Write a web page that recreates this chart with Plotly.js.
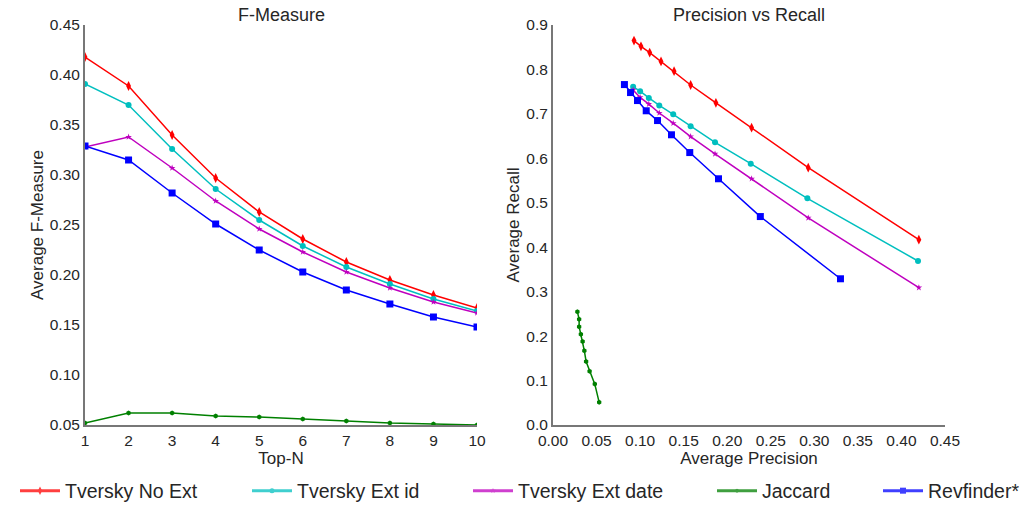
<!DOCTYPE html>
<html><head><meta charset="utf-8">
<script src="https://cdn.plot.ly/plotly-3.0.1.min.js"></script>
<style>body{margin:0}#chart{width:1025px;height:505px}</style>
</head><body><div id="chart"></div>
<script>
const topN = [1,2,3,4,5,6,7,8,9,10];
const seriesNames = ["Tversky No Ext","Tversky Ext id","Tversky Ext date","Jaccard","Revfinder*"];
// F-Measure (left)
const fNoExt   = [0.418,0.389,0.340,0.297,0.263,0.236,0.213,0.195,0.180,0.167];
const fExtId   = [0.391,0.370,0.326,0.286,0.255,0.229,0.208,0.191,0.176,0.164];
const fExtDate = [0.328,0.338,0.307,0.274,0.246,0.223,0.203,0.187,0.173,0.162];
const fJaccard = [0.052,0.062,0.062,0.059,0.058,0.056,0.054,0.052,0.051,0.050];
const fRev     = [0.329,0.315,0.282,0.251,0.225,0.203,0.185,0.171,0.158,0.148];
// Precision vs Recall (right), ordered top-10 .. top-1
const pNoExt   = [0.093,0.101,0.111,0.124,0.139,0.158,0.187,0.228,0.293,0.420];
const rNoExt   = [0.865,0.852,0.838,0.818,0.796,0.765,0.725,0.669,0.579,0.417];
const pExtId   = [0.092,0.100,0.110,0.122,0.138,0.158,0.186,0.227,0.292,0.419];
const rExtId   = [0.761,0.751,0.736,0.719,0.699,0.672,0.636,0.588,0.510,0.369];
const pExtDate = [0.092,0.100,0.110,0.122,0.138,0.158,0.186,0.228,0.293,0.420];
const rExtDate = [0.754,0.737,0.722,0.702,0.679,0.649,0.610,0.554,0.466,0.309];
const pJaccard = [0.028,0.030,0.030,0.032,0.034,0.036,0.038,0.042,0.048,0.053];
const rJaccard = [0.255,0.238,0.221,0.204,0.188,0.167,0.143,0.121,0.092,0.051];
const pRev     = [0.082,0.089,0.097,0.107,0.120,0.136,0.157,0.190,0.238,0.330];
const rRev     = [0.766,0.748,0.730,0.707,0.685,0.653,0.613,0.554,0.469,0.329];
const yTicksF = [0.05,0.10,0.15,0.20,0.25,0.30,0.35,0.40,0.45];
const yTicksR = [0.0,0.1,0.2,0.3,0.4,0.5,0.6,0.7,0.8,0.9];
const xTicksP = [0.00,0.05,0.10,0.15,0.20,0.25,0.30,0.35,0.40,0.45];

const colors = ["#ff0000","#00bfbf","#bf00bf","#008000","#0000ff"];
const symbols = ["diamond-tall","circle","star","hexagon","square"];
const sizes = [7,6,5,5,7];
const legSizes = [6,5,4,4,6];
const fData = [fNoExt,fExtId,fExtDate,fJaccard,fRev];
const pData = [pNoExt,pExtId,pExtDate,pJaccard,pRev];
const rData = [rNoExt,rExtId,rExtDate,rJaccard,rRev];
const legendNames = ["legend","legend2","legend3","legend4","legend5"];
const legendTextPx = [66,298,519,763,929];

const traces = [];
for (let i=0;i<5;i++){
  const common = {mode:"lines+markers", line:{color:colors[i], width:1.5},
    marker:{symbol:symbols[i], size:sizes[i], color:colors[i], line:{width:0}},
    name:seriesNames[i], legendgroup:"g"+i, showlegend:false};
  traces.push(Object.assign({}, common, {x:topN, y:fData[i], xaxis:"x", yaxis:"y"}));
  traces.push(Object.assign({}, common, {x:pData[i], y:rData[i], xaxis:"x2", yaxis:"y2"}));
  // legend-only entry (no visible data)
  traces.push({x:[null], y:[null], xaxis:"x", yaxis:"y", mode:"lines+markers", name:seriesNames[i],
    legendgroup:"g"+i, showlegend:true, legend:legendNames[i], opacity:0.75,
    line:{color:colors[i], width:3},
    marker:{symbol:symbols[i], size:legSizes[i], color:colors[i], line:{width:0}}});
}

const tickFont = {family:"Liberation Sans, Arial, sans-serif", size:15.5, color:"#262626"};
const titleFont = {family:"Liberation Sans, Arial, sans-serif", size:17, color:"#262626"};
const headFont = {family:"Liberation Sans, Arial, sans-serif", size:18, color:"#262626"};
const legFont = {family:"Liberation Sans, Arial, sans-serif", size:19.5, color:"#262626"};
const axCommon = {showgrid:false, zeroline:false, showline:true, linecolor:"#777", linewidth:2,
  ticks:"", tickfont:tickFont, mirror:false};
const L = 85, R = 80, T = 25, B = 80, W = 1025;
const pw = W - L - R;
const layout = {
  width:1025, height:505, paper_bgcolor:"#fff", plot_bgcolor:"#fff",
  margin:{l:L, r:R, t:T, b:B, autoexpand:false}, font:tickFont,
  xaxis:Object.assign({}, axCommon, {domain:[0,(477-L)/pw], range:[1,10], tickvals:topN,
    title:{text:"Top-N", font:titleFont, standoff:0}}),
  yaxis:Object.assign({}, axCommon, {domain:[0,1], range:[0.05,0.45], tickvals:yTicksF, tickformat:".2f",
    title:{text:"Average F-Measure", font:titleFont, standoff:2}}),
  xaxis2:Object.assign({}, axCommon, {domain:[(553-L)/pw,1], range:[0,0.45], tickvals:xTicksP, tickformat:".2f",
    anchor:"y2", title:{text:"Average Precision", font:titleFont, standoff:0}}),
  yaxis2:Object.assign({}, axCommon, {domain:[0,1], range:[0,0.9], tickvals:yTicksR, tickformat:".1f",
    anchor:"x2", title:{text:"Average Recall", font:titleFont, standoff:2}}),
  annotations:[
    {text:"F-Measure", xref:"x domain", yref:"paper", x:0.5, y:1, yanchor:"bottom", showarrow:false, font:headFont, yshift:-2},
    {text:"Precision vs Recall", xref:"x2 domain", yref:"paper", x:0.5, y:1, yanchor:"bottom", showarrow:false, font:headFont, yshift:-2}
  ]
};
for (let i=0;i<5;i++){
  layout[legendNames[i]] = {x:(legendTextPx[i]-51-L)/pw, xanchor:"left", y:-(491-425)/400, yanchor:"middle",
    orientation:"h", font:legFont, bgcolor:"rgba(0,0,0,0)", borderwidth:0, itemwidth:40};
}
Plotly.newPlot("chart", traces, layout, {displayModeBar:false, staticPlot:true});
</script></body></html>
